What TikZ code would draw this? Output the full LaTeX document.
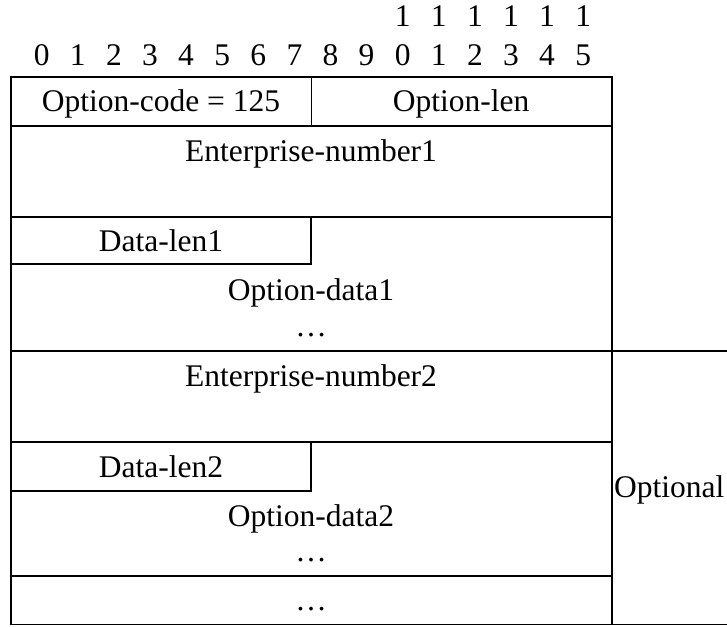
\documentclass[tikz,border=0pt]{standalone}
\usepackage{fontspec}
\setmainfont{Liberation Serif}
\begin{document}
\begin{tikzpicture}[x=1pt, y=-1pt,
  rule/.style={line width=1.9pt, line cap=rect},
  lbl/.style={anchor=base, inner sep=0pt, font=\fontsize{31.5}{36}\selectfont}]
\useasboundingbox (0,0) rectangle (727,626);

% bit index header
\foreach \i in {0,...,15}{
  \pgfmathtruncatemacro{\d}{mod(\i,10)}
  \node[lbl] (bit\i) at ({41.7+36.1*\i},65) {\d};
}
\foreach \i in {10,...,15}{
  \node[lbl] (tens\i) at ({41.7+36.1*\i},26.7) {1};
}

% outer frame and row rules
\draw[rule] (11,77) rectangle (611.7,624.5);
\draw[rule] (611.7,351) -- (727,351);
\draw[rule] (611.7,624.5) -- (727,624.5);
\draw[rule] (311.5,77) -- (311.5,126);
\draw[rule] (11,126) -- (611.7,126);
\draw[rule] (11,216.7) -- (611.7,216.7);
\draw[rule] (311,216.7) -- (311,264.3) -- (11,264.3);
\draw[rule] (11,351) -- (611.7,351);
\draw[rule] (11,441.7) -- (611.7,441.7);
\draw[rule] (311,441.7) -- (311,490.7) -- (11,490.7);
\draw[rule] (11,576) -- (611.7,576);

% field labels
\node[lbl] (code)  at (161,111.7) {Option-code = 125};
\node[lbl] (olen)  at (461,111.7) {Option-len};
\node[lbl] (ent1)  at (311,161.7) {Enterprise-number1};
\node[lbl] (dlen1) at (161,251.7) {Data-len1};
\node[lbl] (odat1) at (311,300) {Option-data1};
\node[lbl] (dots1) at (311,336.7) {\ldots};
\node[lbl] (ent2)  at (311,386.7) {Enterprise-number2};
\node[lbl] (dlen2) at (161,477.5) {Data-len2};
\node[lbl] (odat2) at (311,526) {Option-data2};
\node[lbl] (dots2) at (311,561.7) {\ldots};
\node[lbl] (dots3) at (311,610) {\ldots};
\node[lbl, anchor=base west] (opt) at (614,497) {Optional};
\end{tikzpicture}
\end{document}
